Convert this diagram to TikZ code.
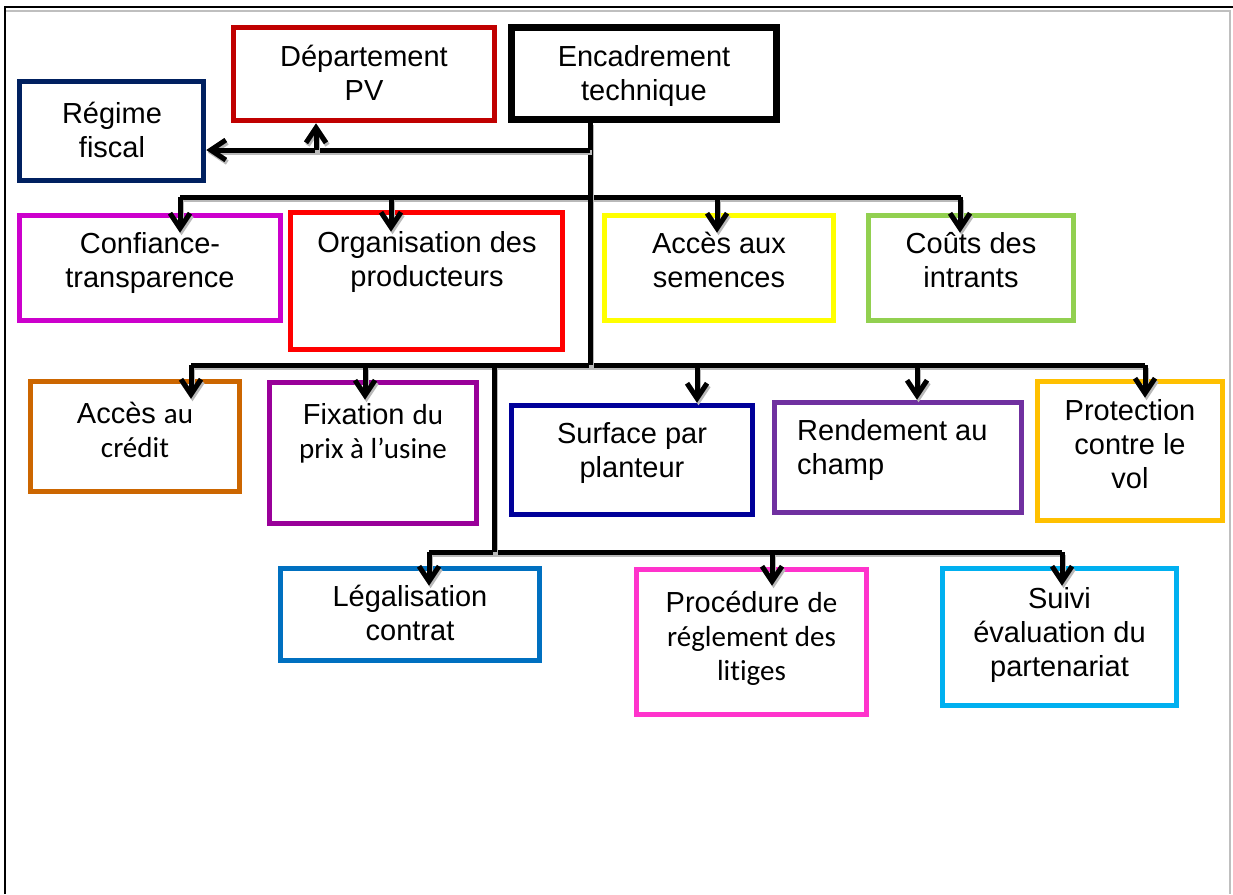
\documentclass[tikz,border=0pt]{standalone}
\usepackage{fontspec}
\setmainfont{Liberation Sans}
\newfontfamily\calib[Ligatures=CommonOff]{Carlito}
\usetikzlibrary{arrows.meta}

\definecolor{regime}{HTML}{002060}
\definecolor{depart}{HTML}{C00000}
\definecolor{confi}{HTML}{CC00CC}
\definecolor{organ}{HTML}{FF0000}
\definecolor{semen}{HTML}{FFFF00}
\definecolor{intra}{HTML}{92D050}
\definecolor{credi}{HTML}{CC6600}
\definecolor{fixat}{HTML}{990099}
\definecolor{surfa}{HTML}{000099}
\definecolor{rende}{HTML}{7030A0}
\definecolor{prote}{HTML}{FFC000}
\definecolor{legal}{HTML}{0070C0}
\definecolor{proce}{HTML}{FF33CC}
\definecolor{suivi}{HTML}{00B0F0}

\tikzset{
	cadre/.style={rectangle, draw, line width=5.5pt, inner sep=0pt},
	texte/.style={inner sep=0pt, align=center, anchor=base, font=\fontsize{29}{34}\selectfont},
	lien/.style={line width=5pt, preaction={draw=gray!55, line width=5pt, transform canvas={xshift=1.5pt,yshift=-2.5pt}}},
	fleche/.style={lien, -{Straight Barb[length=15pt,width=20pt]}}
}

\newcommand{\Cadre}[8][]{
	%box
	\node[cadre, draw=#3, minimum width=#5 pt, minimum height=#6 pt] (#2) at (#4) {};
	%text (anchored on the last line)
	\node[texte, #1] (#2-txt) at (#7) {#8};
}

\begin{document}
\begin{tikzpicture}[x=1pt,y=-1pt]
\useasboundingbox (0,0) rectangle (1233,894);
%frame
\draw[line width=2pt] (5,894) -- (5,7) -- (1233,7);
\draw[gray!50, line width=1.5pt] (6,11) -- (1230,11) -- (1230,894);

%top
\Cadre{reg}{regime}{111.5,131}{184}{99}{112,157}{Régime\\fiscal}
\Cadre{dpv}{depart}{364,74}{261}{93}{364,100}{Département\\PV}
\Cadre{enc}{black, line width=6.5pt}{644,73.5}{265}{92}{644,100}{Encadrement\\technique}
%first row
\Cadre{conf}{confi}{150,268}{261}{105}{150,287}{Confiance-\\transparence}
\Cadre{org}{organ}{426.5,281}{272}{137}{427,286}{Organisation des\\producteurs}
\Cadre{sem}{semen}{719,268}{229}{105}{719,287}{Accès aux\\semences}
\Cadre{cout}{intra}{971,268}{205}{105}{971,287}{Coûts des\\intrants}
%second row
\Cadre{crd}{credi}{135,436.5}{209}{110}{135,457}{Accès {\calib au}\\{\calib crédit}}
\Cadre{fix}{fixat}{373,453}{207}{141}{373,458}{Fixation {\calib du}\\{\calib prix à l’usine}}
\Cadre{surf}{surfa}{632,460}{241}{109}{632,477}{Surface par\\planteur}
\Cadre[anchor=base west, align=left]{rend}{rende}{898,457.5}{247}{110}{797,474}{Rendement au\\champ}
\Cadre{prot}{prote}{1130,451}{185}{139}{1130,488}{Protection\\contre le\\vol}
%third row
\Cadre{leg}{legal}{410,614.5}{259}{92}{410,640}{Légalisation\\contrat}
\Cadre{proc}{proce}{751.5,642}{230}{145}{751.5,680}{Procédure {\calib de}\\{\calib réglement des}\\{\calib litiges}}
\Cadre{suiv}{suivi}{1059.5,637}{234}{137}{1059.5,676}{Suivi\\évaluation du\\partenariat}

%buses
\coordinate (b1g) at (180,197);
\coordinate (b1d) at (961,197);
\coordinate (b2g) at (191,365);
\coordinate (b2d) at (1145,365);
\coordinate (b3g) at (429,552);
\coordinate (b3d) at (1062,552);
\draw[lien] (b1g) -- (b1d);
\draw[lien] (b2g) -- (b2d);
\draw[lien] (b3g) -- (b3d);

%trunks
\coordinate (t1) at (590,150);
\coordinate (t2) at (590,365);
\coordinate (t3) at (494,365);
\coordinate (t4) at (494,552);
\draw[lien] (enc.south -| t1) -- (t2);
\draw[lien] (t3) -- (t4);
\draw[fleche] (t1) -- (t1 -| reg.east);
\coordinate (pv) at (316,150);
\draw[fleche] (pv) -- (pv |- dpv.south);

%drops
\foreach \n/\x/\y/\s in {conf/180/197/20,org/391/197/22,sem/717/197/20,cout/960/197/20,
	crd/191/365/20,fix/365/365/20,surf/697/365/0,rend/917/365/0,prot/1145/365/19,
	leg/429/552/20,proc/772/552/19,suiv/1062/552/20}{
	\coordinate (h-\n) at (\x,\y);
	\draw[fleche, shorten >=-\s pt] (h-\n) -- (h-\n |- \n.north);
}
\end{tikzpicture}
\end{document}
